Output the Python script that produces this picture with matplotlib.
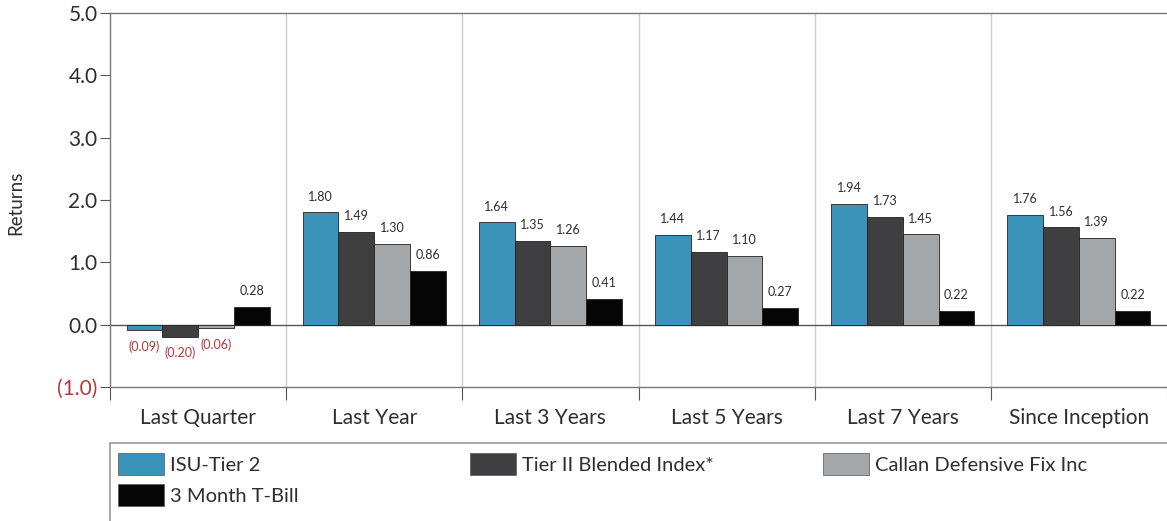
import numpy as np
import matplotlib
matplotlib.use('Agg')
import matplotlib.pyplot as plt
from matplotlib.patches import Patch, Rectangle

periods = ['Last Quarter', 'Last Year', 'Last 3 Years', 'Last 5 Years',
           'Last 7 Years', 'Since Inception']
isu_tier2 = [-0.09, 1.80, 1.64, 1.44, 1.94, 1.76]
tier2_blended = [-0.20, 1.49, 1.35, 1.17, 1.73, 1.56]
callan_def = [-0.06, 1.30, 1.26, 1.10, 1.45, 1.39]
tbill_3m = [0.28, 0.86, 0.41, 0.27, 0.22, 0.22]

series_names = ['ISU-Tier 2', 'Tier II Blended Index*',
                'Callan Defensive Fix Inc', '3 Month T-Bill']
series_colors = ['#3b93b9', '#3f3f42', '#a4a7aa', '#050505']

plt.rcParams['font.family'] = ['Lato', 'DejaVu Sans']
text_col = '#2e2e2e'
neg_col = '#b2393a'

W, H = 1167, 521
fig = plt.figure(figsize=(W / 100, H / 100), dpi=100)
ax = fig.add_axes([110 / W, 1 - 387 / H, 1 - 110 / W, 374 / H])

x = np.arange(len(periods)) + 0.5
width = 0.203
all_series = [isu_tier2, tier2_blended, callan_def, tbill_3m]
for k, (vals, col) in enumerate(zip(all_series, series_colors)):
    pos = x + (k - 1.5) * width
    ax.bar(pos, vals, width, color=col, edgecolor='#222222', linewidth=0.6, zorder=3)
    for px, v in zip(pos, vals):
        if v < 0:
            ax.annotate('(%.2f)' % abs(v), (px, v), xytext=(0, -7),
                        textcoords='offset points', ha='center', va='top',
                        fontsize=9, color=neg_col)
        else:
            ax.annotate('%.2f' % v, (px, v), xytext=(0, 7),
                        textcoords='offset points', ha='center', va='bottom',
                        fontsize=9, color=text_col)

# group separators and zero line
for b in range(1, len(periods)):
    ax.axvline(b, color='#cfcfcf', linewidth=1, zorder=1)
ax.axhline(0, color='#555555', linewidth=1, zorder=2)

ax.set_xlim(0, 1057 / 177.7)
ax.set_ylim(-1, 5)
ax.set_yticks([5, 4, 3, 2, 1, 0, -1])
ax.set_yticklabels(['5.0', '4.0', '3.0', '2.0', '1.0', '0.0', '(1.0)'],
                   fontsize=15, color=text_col)
ax.get_yticklabels()[-1].set_color(neg_col)
ax.tick_params(axis='y', length=7, color='#555555', pad=2)

ax.set_xticks(np.arange(0, len(periods) + 1))
ax.set_xticklabels([])
ax.tick_params(axis='x', which='major', length=9, color='#555555')
ax.set_xticks(x, minor=True)
ax.set_xticklabels(periods, minor=True, fontsize=15, color=text_col)
ax.tick_params(axis='x', which='minor', length=0, pad=15)

for side in ['left', 'bottom', 'top']:
    ax.spines[side].set_color('#777777')
    ax.spines[side].set_linewidth(1)
ax.spines['right'].set_visible(False)

fig.text(16 / W, 1 - 203 / H, 'Returns', rotation=90, ha='center',
         va='center', fontsize=13.5, color=text_col)

# legend box running off the bottom and right edges
fig.add_artist(Rectangle((110 / W, -0.1), 1.0, 1 - 443 / H + 0.1,
                         transform=fig.transFigure, fill=False,
                         edgecolor='#999999', linewidth=1.2))

handles = [Patch(facecolor=c, edgecolor='#555555', linewidth=0.5) for c in series_colors]
columns = [([0, 3], 118), ([1], 470), ([2], 823)]
for idx, left in columns:
    leg = fig.legend([handles[i] for i in idx], [series_names[i] for i in idx],
                     loc='upper left', bbox_to_anchor=(left / W, 1 - 453 / H),
                     fontsize=14.5, frameon=False,
                     handlelength=2.3, handleheight=1.33, handletextpad=0.3,
                     labelspacing=0.42, borderpad=0, borderaxespad=0)
    for t in leg.get_texts():
        t.set_color(text_col)

fig.savefig('out.png', dpi=100)
